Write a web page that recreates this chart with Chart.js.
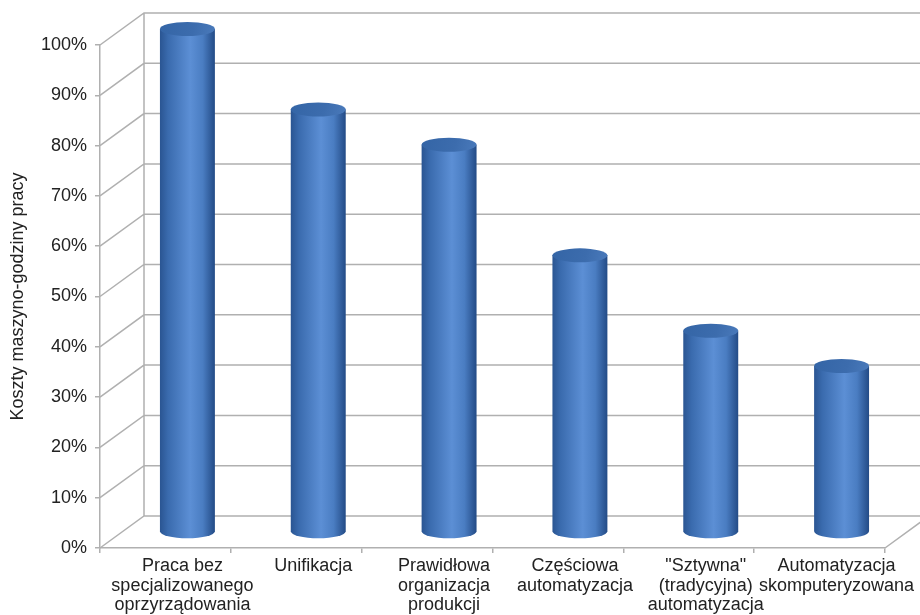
<!DOCTYPE html>
<html>
<head>
<meta charset="utf-8">
<script src="https://cdn.jsdelivr.net/npm/chart.js@4/dist/chart.umd.min.js"></script>
<style>
html,body{margin:0;padding:0;background:#fff;}
#wrap{width:920px;height:615px;position:relative;}
</style>
</head>
<body>
<div id="wrap"><canvas id="c" width="920" height="615"></canvas></div>
<script>
const categories = [
  ["Praca bez", "specjalizowanego", "oprzyrządowania"],
  ["Unifikacja"],
  ["Prawidłowa", "organizacja", "produkcji"],
  ["Częściowa", "automatyzacja"],
  ["\"Sztywna\"", "(tradycyjna)", "automatyzacja"],
  ["Automatyzacja", "skomputeryzowana"]
];
const costValues = [100, 84, 77, 55, 40, 33];
const yTickValues = [0, 10, 20, 30, 40, 50, 60, 70, 80, 90, 100];
const yAxisTitle = "Koszty maszyno-godziny pracy";

const GRID = '#b0b0b0';
const TEXT = '#222222';
const FONT = "'Liberation Sans', Arial, sans-serif";
const DEPTH_DX = 44, DEPTH_DY = -32;   // back wall offset
const BAR_DX = 22, BAR_DY = -16;       // cylinders at mid depth

const wallsPlugin = {
  id: 'walls',
  beforeDatasetsDraw(chart) {
    const {ctx, chartArea, scales: {y}} = chart;
    const W = chart.width;
    ctx.save();
    ctx.strokeStyle = GRID;
    ctx.lineWidth = 1.5;
    ctx.beginPath();
    yTickValues.forEach(v => {
      const py = y.getPixelForValue(v);
      ctx.moveTo(chartArea.left, py);
      ctx.lineTo(chartArea.left + DEPTH_DX, py + DEPTH_DY);
      ctx.lineTo(W, py + DEPTH_DY);
    });
    const y0 = y.getPixelForValue(0), y1 = y.getPixelForValue(100);
    ctx.moveTo(chartArea.left + DEPTH_DX, y0 + DEPTH_DY);
    ctx.lineTo(chartArea.left + DEPTH_DX, y1 + DEPTH_DY);
    ctx.moveTo(chartArea.right, y0);
    ctx.lineTo(chartArea.right + DEPTH_DX, y0 + DEPTH_DY);
    ctx.stroke();
    ctx.restore();
  }
};

const cylinderPlugin = {
  id: 'cylinders',
  afterDatasetsDraw(chart) {
    const {ctx} = chart;
    const meta = chart.getDatasetMeta(0);
    meta.data.forEach(el => {
      const cx = el.x + BAR_DX;
      const top = el.y + BAR_DY;
      const base = el.base + BAR_DY;
      const rx = el.width / 2;
      const ry = 7;
      ctx.save();
      const g = ctx.createLinearGradient(cx - rx, 0, cx + rx, 0);
      g.addColorStop(0, '#2a5592');
      g.addColorStop(0.15, '#3a6bae');
      g.addColorStop(0.55, '#5c8fd5');
      g.addColorStop(0.78, '#4a7dc2');
      g.addColorStop(1, '#234b86');
      ctx.beginPath();
      ctx.moveTo(cx - rx, top);
      ctx.lineTo(cx - rx, base);
      ctx.ellipse(cx, base, rx, ry, 0, Math.PI, 0, true);
      ctx.lineTo(cx + rx, top);
      ctx.closePath();
      ctx.fillStyle = g;
      ctx.fill();
      const gt = ctx.createLinearGradient(cx - rx, top - ry, cx + rx, top + ry);
      gt.addColorStop(0, '#3465a6');
      gt.addColorStop(0.6, '#3c6cad');
      gt.addColorStop(1, '#4a7abb');
      ctx.beginPath();
      ctx.ellipse(cx, top, rx, ry, 0, 0, Math.PI * 2);
      ctx.fillStyle = gt;
      ctx.fill();
      ctx.restore();
    });
  }
};

new Chart(document.getElementById('c'), {
  type: 'bar',
  data: {
    labels: categories,
    datasets: [{
      data: costValues,
      backgroundColor: 'rgba(0,0,0,0)',
      borderWidth: 0,
      categoryPercentage: 1,
      barPercentage: 0.42
    }]
  },
  options: {
    responsive: false,
    animation: false,
    devicePixelRatio: 1,
    layout: {padding: {top: 45, right: 35, left: 0, bottom: 0}},
    plugins: {legend: {display: false}, tooltip: {enabled: false}},
    scales: {
      x: {
        afterFit(s) { s.height = 67; },
        grid: {display: true, drawOnChartArea: false, drawTicks: true, tickLength: 5, color: GRID, lineWidth: 1.5},
        border: {display: true, color: GRID, width: 1.5},
        ticks: {
          color: TEXT, autoSkip: false, maxRotation: 0, minRotation: 0, padding: 3,
          labelOffset: 17,
          font: {family: FONT, size: 18, lineHeight: 1.1}
        }
      },
      y: {
        min: 0, max: 100,
        afterFit(s) { s.width = 100; },
        afterBuildTicks(s) { s.ticks = yTickValues.map(v => ({value: v})); },
        grid: {display: true, drawOnChartArea: false, drawTicks: true, tickLength: 5, color: GRID, lineWidth: 1.5},
        border: {display: true, color: GRID, width: 1.5},
        ticks: {
          color: TEXT, padding: 8,
          callback: v => v + '%',
          font: {family: FONT, size: 18}
        },
        title: {
          display: true, text: yAxisTitle, color: TEXT,
          padding: {top: 7, bottom: 0},
          font: {family: FONT, size: 18}
        }
      }
    }
  },
  plugins: [wallsPlugin, cylinderPlugin]
});
</script>
</body>
</html>
